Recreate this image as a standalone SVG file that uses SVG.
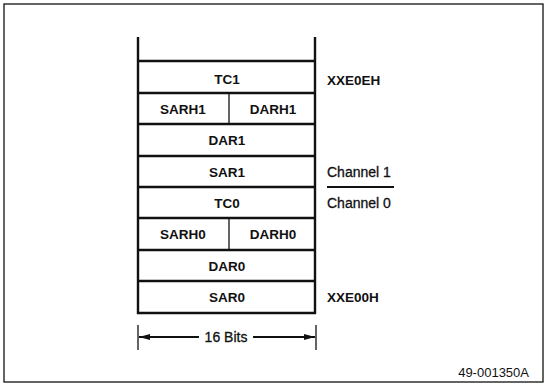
<svg xmlns="http://www.w3.org/2000/svg" width="544" height="385" viewBox="0 0 544 385">
<defs>
<style>
.f{font-family:"Liberation Sans",Arial,sans-serif;font-size:13.5px;fill:#111;font-weight:bold}
.c{text-anchor:middle}
.ln{stroke:#111;stroke-width:2.4;fill:none}
.th{stroke:#111;stroke-width:1.3;fill:none}
.dm{stroke:#111;stroke-width:2;fill:none}
</style>
<marker id="ah" markerWidth="11" markerHeight="6" refX="11" refY="3" orient="auto" markerUnits="userSpaceOnUse">
<path d="M0,0 L11,3 L0,6 Z" fill="#111"/>
</marker>
</defs>
<rect width="544" height="385" fill="#fff"/>
<rect x="4" y="4" width="539" height="378" class="th"/>
<g id="stack">
<line x1="138" y1="37" x2="138" y2="314" class="ln"/>
<line x1="315" y1="37" x2="315" y2="314" class="ln"/>
</g>
<g id="tc1"><line x1="137" y1="61" x2="316" y2="61" class="ln"/><text x="227" y="84" class="f c">TC1</text></g>
<g id="sarh1"><line x1="137" y1="93" x2="316" y2="93" class="ln"/><line x1="229" y1="93" x2="229" y2="124" class="th"/><text x="183" y="114" class="f c">SARH1</text></g>
<g id="darh1"><text x="273" y="114" class="f c">DARH1</text></g>
<g id="dar1"><line x1="137" y1="124" x2="316" y2="124" class="ln"/><text x="227" y="145" class="f c">DAR1</text></g>
<g id="sar1"><line x1="137" y1="156" x2="316" y2="156" class="ln"/><text x="227" y="177" class="f c">SAR1</text></g>
<g id="tc0"><line x1="137" y1="187" x2="316" y2="187" class="ln"/><text x="227" y="208" class="f c">TC0</text></g>
<g id="sarh0"><line x1="137" y1="218" x2="316" y2="218" class="ln"/><line x1="229" y1="218" x2="229" y2="250" class="th"/><text x="183" y="239" class="f c">SARH0</text></g>
<g id="darh0"><text x="273" y="239" class="f c">DARH0</text></g>
<g id="dar0"><line x1="137" y1="250" x2="316" y2="250" class="ln"/><text x="227" y="271" class="f c">DAR0</text></g>
<g id="sar0"><line x1="137" y1="281" x2="316" y2="281" class="ln"/><line x1="137" y1="313" x2="316" y2="313" class="ln"/><text x="227" y="302" class="f c">SAR0</text></g>
<g id="labels">
<text x="327" y="85" class="f">XXE0EH</text>
<text x="327" y="177" class="f" style="font-weight:normal;font-size:14px;stroke:#111;stroke-width:0.3">Channel 1</text>
<line x1="327" y1="187" x2="394" y2="187" class="dm"/>
<text x="327" y="208" class="f" style="font-weight:normal;font-size:14px;stroke:#111;stroke-width:0.3">Channel 0</text>
<text x="327" y="302" class="f">XXE00H</text>
</g>
<g id="connectors">
<line x1="138" y1="325" x2="138" y2="350" class="th"/>
<line x1="316" y1="325" x2="316" y2="350" class="th"/>
<line x1="199" y1="337" x2="139" y2="337" class="dm" marker-end="url(#ah)"/>
<line x1="253" y1="337" x2="315" y2="337" class="dm" marker-end="url(#ah)"/>
<text x="226" y="342" class="f c" style="font-weight:normal;font-size:14px;stroke:#111;stroke-width:0.3">16 Bits</text>
</g>
<text x="529" y="377" class="f" style="font-size:13px;font-weight:normal;text-anchor:end">49-001350A</text>
</svg>
